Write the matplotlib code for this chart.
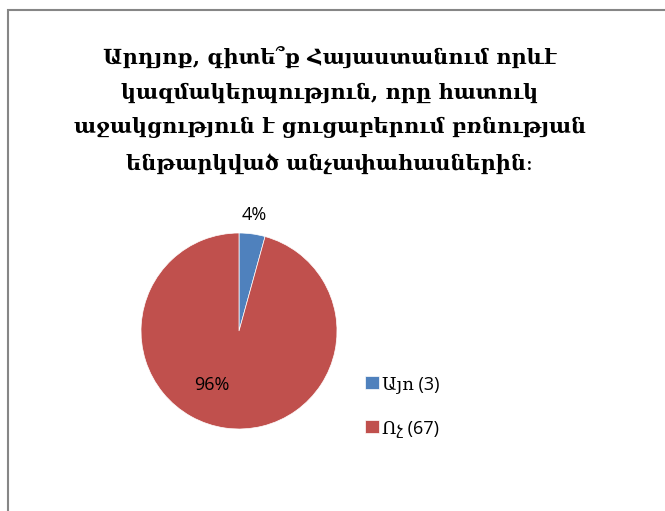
import matplotlib
matplotlib.use("Agg")
import matplotlib.pyplot as plt
from matplotlib.patches import Rectangle

title = "Արդյոք, գիտե՞ք Հայաստանում որևէ\nկազմակերպություն, որը հատուկ\nաջակցություն է ցուցաբերում բռնության\nենթարկված անչափահասներին։"
categories = ["Այո (3)", "Ոչ (67)"]
values = [3, 67]
colors = ["#4F81BD", "#C0504D"]

W, H = 665, 511
fig = plt.figure(figsize=(W/100, H/100), dpi=100)
fig.patch.set_facecolor("white")

# outer frame (cropped on right/bottom)
fig.add_artist(Rectangle((8/W, -0.1), 1.2, (H-10)/H + 0.1, transform=fig.transFigure,
                         fill=False, edgecolor="#868686", linewidth=1.5))

fig.text(330/W, 1 - 110/H, title, ha="center", va="center", fontsize=15,
         fontweight="bold", family=["DejaVu Serif"], linespacing=1.9, color="#000000")

cx, cy, r = 239, 331, 98
ax = fig.add_axes([(cx - r)/W, 1 - (cy + r)/H, 2*r/W, 2*r/H])
wedges, _ = ax.pie(values, colors=colors, startangle=90, counterclock=False,
                   wedgeprops=dict(linewidth=0.5, edgecolor="white"))
ax.set_aspect("equal")
ax.set_xlim(-1, 1); ax.set_ylim(-1, 1)

total = sum(values)
fig.text(254/W, 1 - 215/H, f"{values[0]/total*100:.0f}%", ha="center", va="center",
         fontsize=13, family=["Open Sans", "DejaVu Sans"])
fig.text(212/W, 1 - 385/H, f"{values[1]/total*100:.0f}%", ha="center", va="center",
         fontsize=13, family=["Open Sans", "DejaVu Sans"])

leg = fig.legend(wedges, categories, loc="center left", bbox_to_anchor=(349/W, 1 - 406/H),
                 frameon=False, handlelength=0.75, handleheight=0.75, handletextpad=0.2,
                 labelspacing=1.45, prop=dict(family=["Open Sans", "DejaVu Serif"], size=13))

fig.savefig("out.png", dpi=100)
